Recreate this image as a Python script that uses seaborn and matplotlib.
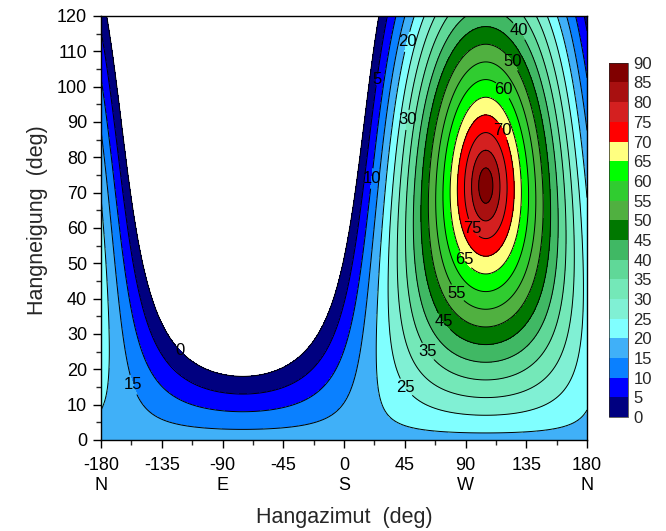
import numpy as np
import matplotlib
matplotlib.use("Agg")
import matplotlib.pyplot as plt
from matplotlib.colors import ListedColormap, BoundaryNorm
import seaborn as sns

# Sun position used for the slope geometry (degrees; azimuth 0 = S, 90 = W)
sun_azimuth = 105.0
sun_elevation = 18.0

# Slope azimuth and slope inclination axes (degrees)
azimuth = np.linspace(-180, 180, 721)
inclination = np.linspace(0, 120, 481)

# Contour levels: sun elevation above the slope plane (degrees)
levels = list(range(0, 95, 5))
band_colors = [
    "#000080", "#0000ff", "#0a80ff", "#40b0f8", "#80ffff", "#80f0d4",
    "#74e8b8", "#60d898", "#40b864", "#007800", "#50b040", "#30cc30",
    "#00ff00", "#ffff80", "#ff0000", "#d42020", "#a81010", "#800000",
]

xtick_values = [-180, -135, -90, -45, 0, 45, 90, 135, 180]
xtick_labels = ["-180\nN", "-135", "-90\nE", "-45", "0\nS", "45", "90\nW", "135", "180\nN"]
ytick_values = list(range(0, 121, 10))

# Positions (azimuth, inclination) of the contour labels
label_levels = [0, 5, 10, 15, 20, 25, 30, 35, 40, 45, 50, 55, 60, 65, 70, 75]
label_points = [
    (-121, 25.5), (23, 102), (20.7, 74), (-156, 15.6), (46.7, 112.7),
    (45, 14.7), (46.7, 90.6), (61.5, 24.9), (128.9, 115.5), (73.3, 33.4),
    (124.4, 107), (83.7, 41.6), (117.8, 99), (89.6, 51), (117.8, 87.7),
    (95.6, 60),
]

sns.set_theme(style="ticks")
plt.rcParams["font.family"] = ["Liberation Sans", "DejaVu Sans"]

A, B = np.meshgrid(np.radians(azimuth), np.radians(inclination))
zs = np.radians(90.0 - sun_elevation)
gs = np.radians(sun_azimuth)
cos_i = np.cos(B) * np.cos(zs) + np.sin(B) * np.sin(zs) * np.cos(A - gs)
elev = np.degrees(np.arcsin(np.clip(cos_i, -1, 1)))

cmap = ListedColormap(band_colors)
norm = BoundaryNorm(levels, cmap.N)

fig = plt.figure(figsize=(6.66, 5.31), dpi=100)
ax_left, ax_bottom, ax_w, ax_h = 0.1517, 0.1714, 0.7297, 0.7985
ax = fig.add_axes([ax_left, ax_bottom, ax_w, ax_h])
cf = ax.contourf(azimuth, inclination, elev, levels=levels, cmap=cmap, norm=norm)
cs = ax.contour(azimuth, inclination, elev, levels=levels, colors="black", linewidths=0.7)
texts = ax.clabel(cs, levels=label_levels, manual=label_points, inline=True,
                  fmt="%d", fontsize=12, colors="black", inline_spacing=1)
for t in texts:
    t.set_rotation(0)

ax.set_xlim(-180, 180)
ax.set_ylim(0, 120)
ax.set_xticks(xtick_values)
ax.set_xticklabels(xtick_labels, linespacing=1.17)
ax.set_xticks(np.arange(-157.5, 180, 45), minor=True)
ax.set_yticks(ytick_values)
ax.set_yticks(np.arange(5, 120, 10), minor=True)
ax.tick_params(axis="both", which="major", direction="out", length=6, width=1,
               labelsize=13, colors="black")
ax.tick_params(axis="x", which="major", pad=6.5)
ax.tick_params(axis="y", which="major", pad=4)
ax.tick_params(axis="both", which="minor", direction="out", length=3.5, width=1)
for s in ax.spines.values():
    s.set_linewidth(1)
    s.set_color("black")
ax.set_xlabel("Hangazimut  (deg)", fontsize=15.5)
ax.set_ylabel("Hangneigung  (deg)", fontsize=15.5)
ax.xaxis.set_label_coords(ax_left + ax_w / 2, (531 - 517) / 531,
                          transform=fig.transFigure)
ax.xaxis.label.set_va("center")
ax.yaxis.set_label_coords(38 / 666, (531 - 220) / 531, transform=fig.transFigure)
ax.yaxis.label.set_va("center")

cax = fig.add_axes([0.914, 0.2147, 0.029, 0.667])
cb = fig.colorbar(cf, cax=cax, ticks=levels)
cb.outline.set_linewidth(0.5)
cax.tick_params(length=0, labelsize=12, pad=4)

fig.savefig("out.png", dpi=100)
